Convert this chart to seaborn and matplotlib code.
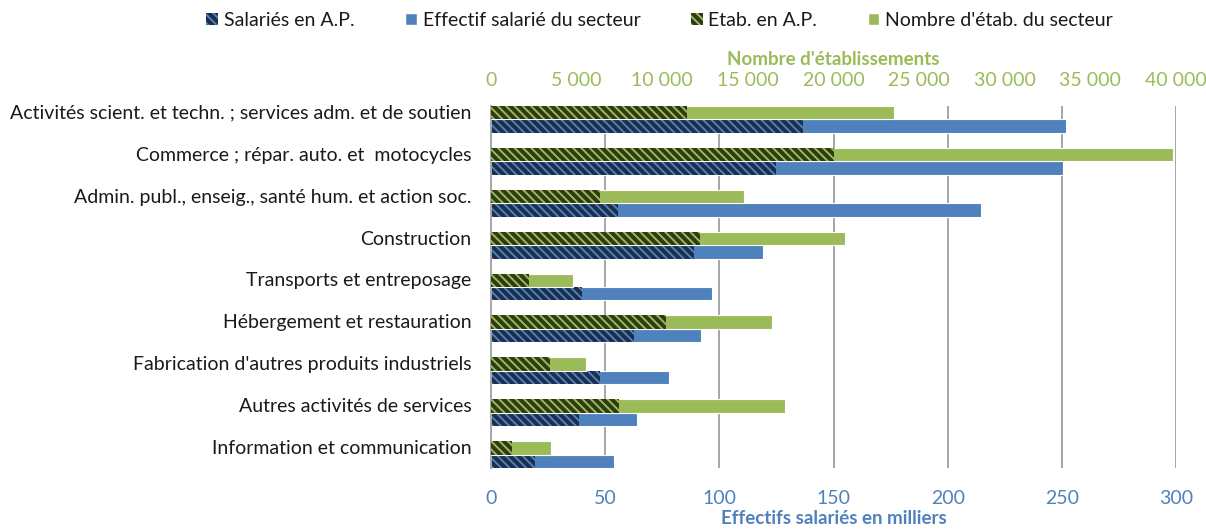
import pandas as pd
import matplotlib
matplotlib.use('Agg')
import matplotlib.pyplot as plt
import matplotlib.patches as mpatches
import seaborn as sns

# ─────────────────────────────────────────
# Data
# ─────────────────────────────────────────
sectors = [
    "Activités scient. et techn. ; services adm. et de soutien",
    "Commerce ; répar. auto. et  motocycles",
    "Admin. publ., enseig., santé hum. et action soc.",
    "Construction",
    "Transports et entreposage",
    "Hébergement et restauration",
    "Fabrication d'autres produits industriels",
    "Autres activités de services",
    "Information et communication",
]
# employees, thousands
salaries_ap = [136.7, 124.8, 55.6, 89.0, 39.9, 62.8, 47.7, 38.4, 19.3]
effectif_secteur = [251.9, 250.5, 214.6, 119.3, 96.7, 92.1, 78.0, 63.9, 53.7]
# establishments
etab_ap = [11450, 20030, 6370, 12220, 2200, 10220, 3470, 7490, 1250]
etab_secteur = [23530, 39830, 14760, 20650, 4790, 16390, 5550, 17190, 3500]

x_ticks_bottom = [0, 50, 100, 150, 200, 250, 300]
x_ticks_top = [0, 5000, 10000, 15000, 20000, 25000, 30000, 35000, 40000]

BLUE = '#4F81BD'
NAVY = '#1C2E4A'
GREEN = '#9BBB59'
OLIVE = '#2E3B14'
TXT = '#1A1A1A'
FS = 14
BAR_W = 0.64
HATCH = '\\\\\\\\'

sns.set_style('white')
plt.rcParams['font.family'] = ['Lato', 'DejaVu Sans']
plt.rcParams['hatch.linewidth'] = 1.4

hue_order = ['Etab', 'Sal']
sal_df = pd.DataFrame({'cat': sectors, 'kind': 'Sal', 'tot': effectif_secteur, 'ap': salaries_ap})
etab_df = pd.DataFrame({'cat': sectors, 'kind': 'Etab', 'tot': etab_secteur, 'ap': etab_ap})

fig = plt.figure(figsize=(12.06, 5.29), dpi=100)
ax = fig.add_axes([491 / 1206, 1 - 468 / 529, 685 / 1206, 362 / 529])
ax2 = ax.twiny()


def draw(axis, df, light, dark):
    # sector total first, then the A.P. share on top of it
    sns.barplot(data=df, x='tot', y='cat', hue='kind', hue_order=hue_order, order=sectors,
                palette={'Etab': light, 'Sal': light}, width=BAR_W, legend=False, dodge=True,
                saturation=1, orient='h', ax=axis, errorbar=None)
    n = len(axis.containers)
    sns.barplot(data=df, x='ap', y='cat', hue='kind', hue_order=hue_order, order=sectors,
                palette={'Etab': dark, 'Sal': dark}, width=BAR_W, legend=False, dodge=True,
                saturation=1, orient='h', ax=axis, errorbar=None)
    for cont in axis.containers[:n]:
        for p in cont.patches:
            p.set_edgecolor('white')
            p.set_linewidth(0.8)
    for cont in axis.containers[n:]:
        for p in cont.patches:
            p.set_facecolor(dark)
            p.set_edgecolor(light)
            p.set_hatch(HATCH)
            p.set_linewidth(0)


draw(ax, sal_df, BLUE, NAVY)
draw(ax2, etab_df, GREEN, OLIVE)

ax.set_xlim(0, 300)
ax2.set_xlim(0, 40000)
ax.set_ylim(len(sectors) - 1 + BAR_W / 2, -BAR_W / 2)

# category labels sit a little above the bar pair, as in the original
ax.set_yticks([i - 0.18 for i in range(len(sectors))])
ax.set_yticklabels(sectors)

ax.set_xticks(x_ticks_bottom)
ax.set_xticklabels([str(v) for v in x_ticks_bottom], color=BLUE, fontsize=FS)
ax2.set_xticks(x_ticks_top)
ax2.set_xticklabels([f"{v:,}".replace(',', ' ') for v in x_ticks_top], color=GREEN, fontsize=FS)
ax.tick_params(axis='x', length=0, pad=16)
ax2.tick_params(axis='x', length=0, pad=12)
ax.tick_params(axis='y', length=0, pad=14, labelsize=FS, labelcolor=TXT)

ax.set_xlabel('Effectifs salariés en milliers', color=BLUE, fontsize=FS - 0.5, fontweight='bold', labelpad=2)
ax2.set_xlabel("Nombre d'établissements", color=GREEN, fontsize=FS - 0.5, fontweight='bold', labelpad=5)
ax.set_ylabel('')
ax2.set_ylabel('')

ax.set_axisbelow(True)
ax.grid(axis='x', color='#A6A6A6', linewidth=1.4)
ax.grid(axis='y', visible=False)
ax2.grid(False)
for a in (ax, ax2):
    for s in a.spines.values():
        s.set_visible(False)
ax.spines['left'].set_visible(True)
ax.spines['left'].set_color('#A6A6A6')
ax.spines['left'].set_linewidth(1.4)

handles = [
    mpatches.Patch(facecolor=NAVY, edgecolor=BLUE, hatch=HATCH, linewidth=0, label='Salariés en A.P.'),
    mpatches.Patch(facecolor=BLUE, label='Effectif salarié du secteur'),
    mpatches.Patch(facecolor=OLIVE, edgecolor=GREEN, hatch=HATCH, linewidth=0, label='Etab. en A.P.'),
    mpatches.Patch(facecolor=GREEN, label="Nombre d'étab. du secteur"),
]
fig.legend(handles=handles, loc='center', bbox_to_anchor=(0.547, 0.962), ncol=4, frameon=False,
           fontsize=FS, handlelength=0.6, handleheight=0.6, handletextpad=0.3, columnspacing=2.6,
           labelcolor=TXT)

fig.savefig('out.png', dpi=100)
